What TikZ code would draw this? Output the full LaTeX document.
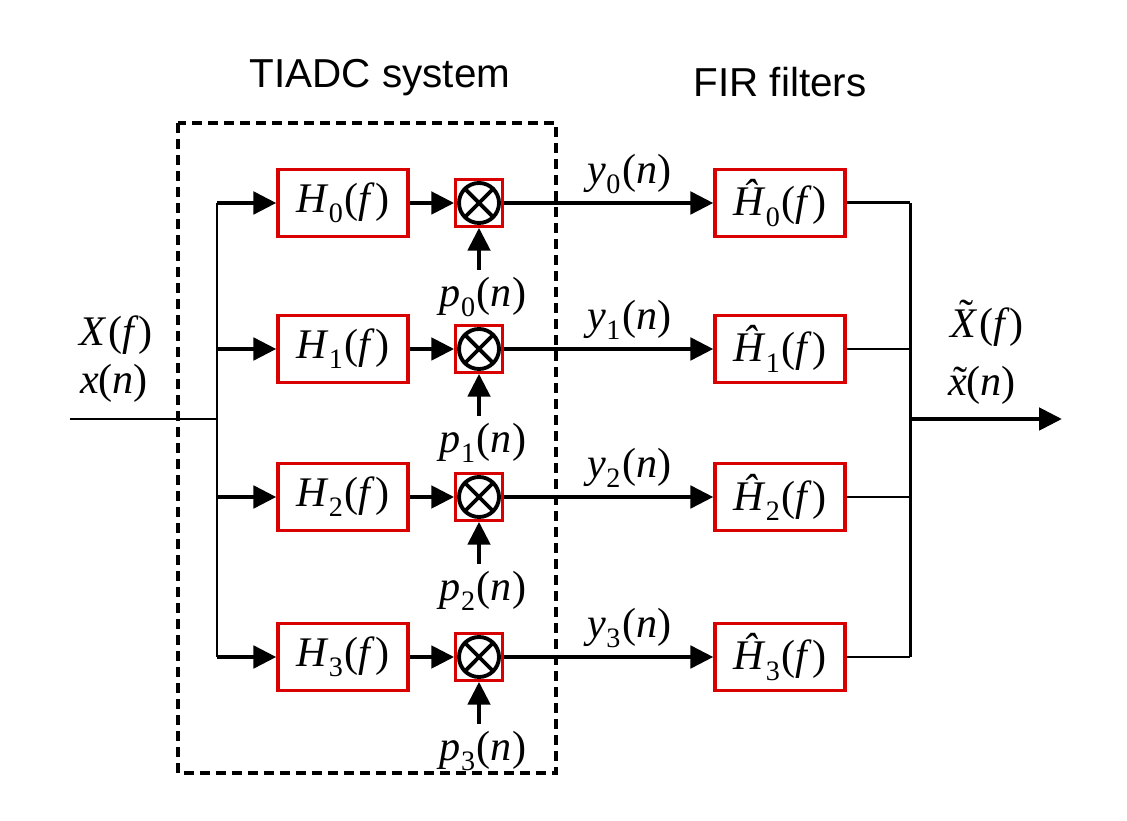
\documentclass[tikz,border=0pt]{standalone}
\usepackage{fontspec}
\setmainfont{Liberation Serif}
\setsansfont{Liberation Sans}
\usetikzlibrary{arrows.meta}

% italic letter, subscript, italic argument
\newcommand\sgl[3]{\textit{#1}\textsubscript{\raisebox{-0.3ex}{#2}}(\textit{#3})}
% tilde over a letter
\newcommand\tld[2][0pt]{\ooalign{#2\cr\hidewidth\kern0.15em\raisebox{#1}{\symbol{"02DC}}\hidewidth\cr}}

\tikzset{
  blk/.style={draw=red!85!black, line width=0.9pt, fill=white, minimum width=1.3cm, minimum height=0.67cm, inner sep=0pt, font=\fontsize{12}{14}\selectfont},
  mult/.style={draw=red!85!black, line width=0.7pt, minimum size=0.47cm, inner sep=0pt},
  sig/.style={line width=1.4pt, -{Triangle[length=2.3mm,width=2.2mm]}},
  wire/.style={line width=0.85pt},
  lbl/.style={font=\fontsize{12}{14}\selectfont, inner sep=1pt},
  ttl/.style={font=\sffamily\fontsize{11.5}{13}\selectfont}
}

\begin{document}
\begin{tikzpicture}
\useasboundingbox (0,0) rectangle (11.27,-8.21);

% TIADC block and titles
\draw[line width=0.9pt, dash pattern=on 1mm off 0.6mm] (1.78,-1.23) rectangle (5.56,-7.73);
\node[ttl] (tiadc) at (3.80,-0.78) {TIADC system};
\node[ttl] (fir) at (7.80,-0.82) {FIR filters};

% one channel per row
\foreach \i/\y in {0/-2.03,1/-3.49,2/-4.97,3/-6.57}{
  \coordinate (s\i) at (2.17,\y);
  \coordinate (o\i) at (9.10,\y);
  \coordinate (q\i) at (4.79,\y-0.67);
  \node[blk] (h\i) at (3.43,\y) {\sgl{H}{\i}{f}};
  \node[mult] (m\i) at (4.79,\y) {};
  \draw[line width=1.1pt] (m\i.center) circle (0.2);
  \draw[line width=1.1pt] (m\i.center) ++(45:0.2) -- ++(225:0.4);
  \draw[line width=1.1pt] (m\i.center) ++(135:0.2) -- ++(315:0.4);
  \node[blk] (g\i) at (7.80,\y) {\sgl{\^H}{\i}{f}};
  \node[lbl] (p\i) at (4.83,\y-0.94) {\sgl{p}{\i}{n}};
  \draw[sig] (s\i) -- (h\i);
  \draw[sig] (h\i) -- (m\i);
  \draw[sig] (q\i) -- (m\i);
  \draw[sig] (m\i) -- node[lbl, above=1pt, pos=0.6]{\sgl{y}{\i}{n}} (g\i);
  \draw[wire] (g\i) -- (o\i);
}

% input and output
\coordinate (in) at (0.70,-4.19);
\coordinate (out) at (10.62,-4.19);
\draw[wire] (s0) -- (s3);
\draw[wire] (o0) -- (o3);
\draw[wire] (in) -- (in -| s0);
\draw[sig] (out -| o0) -- (out);
\node[lbl] (xf) at (1.16,-3.35) {\textit{X}\kern0.05em(\textit{f})};
\node[lbl] (xn) at (1.14,-3.83) {\textit{x}(\textit{n})};
\node[lbl] (xtf) at (9.87,-3.27) {\tld[0.22em]{\textit{X}}\kern0.05em(\textit{f})};
\node[lbl] (xtn) at (9.82,-3.85) {\tld{\textit{x}}(\textit{n})};
\end{tikzpicture}
\end{document}
